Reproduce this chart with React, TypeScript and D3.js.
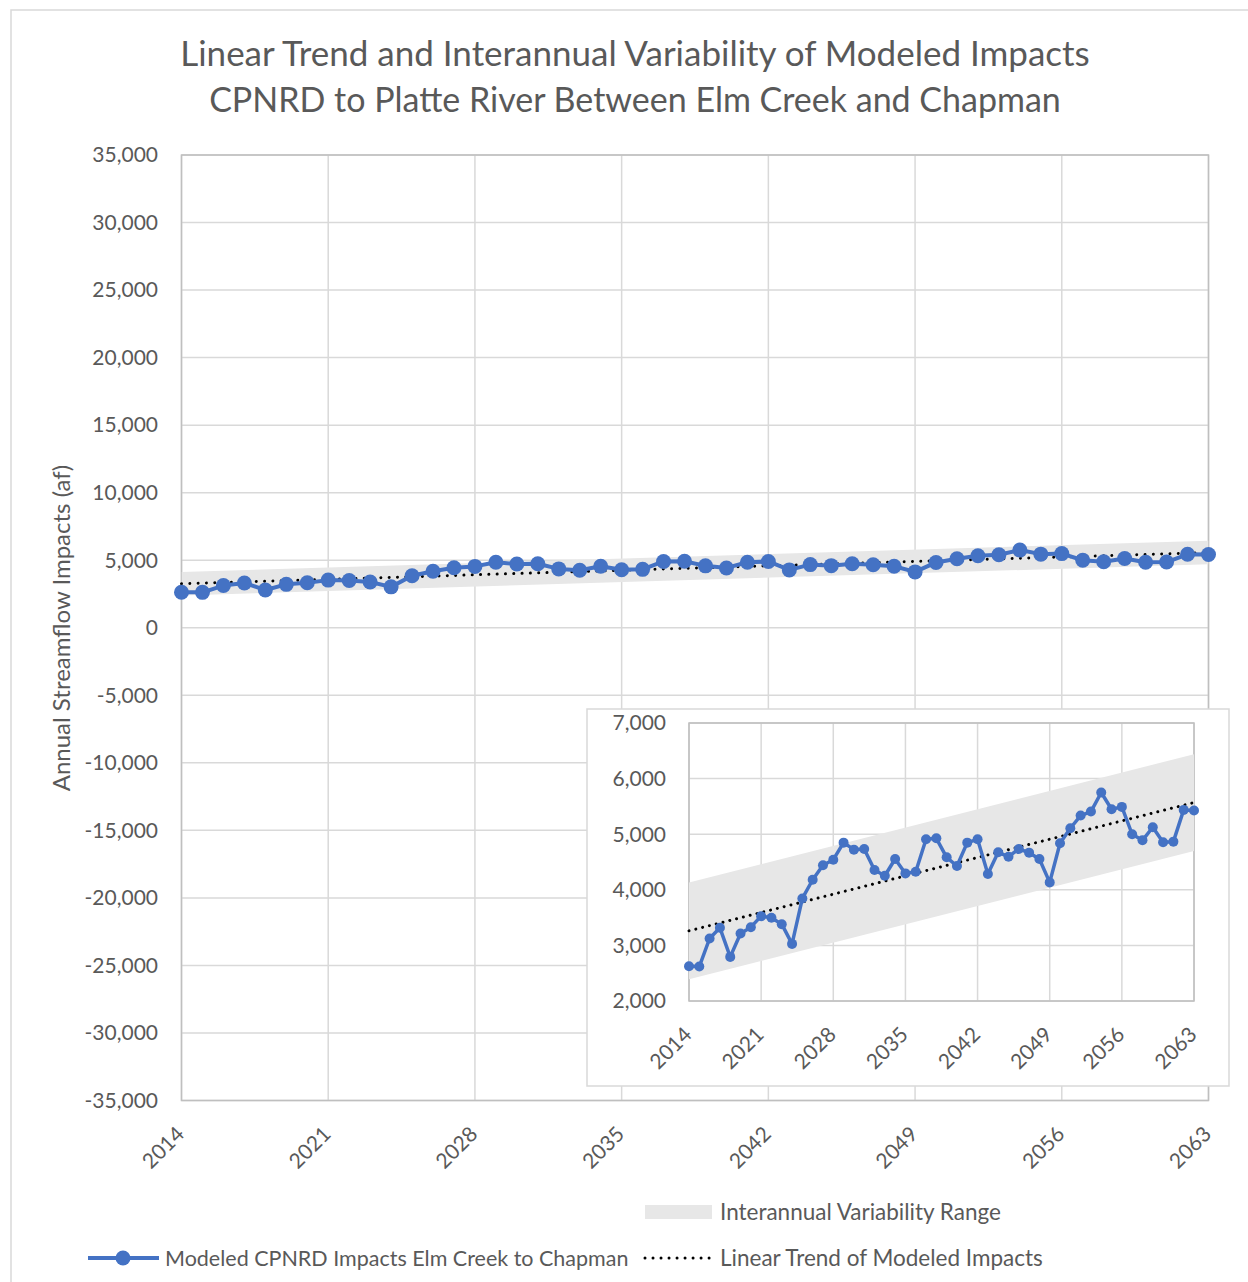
import React from "react";
import * as d3 from "d3";

const years: number[] = d3.range(2014, 2064);
const impacts: number[] = [
  2625, 2620, 3124, 3316, 2793, 3214, 3328, 3526, 3496, 3382,
  3027, 3845, 4181, 4440, 4542, 4848, 4722, 4734, 4356, 4253,
  4554, 4295, 4325, 4908, 4926, 4584, 4428, 4848, 4908, 4283,
  4674, 4596, 4734, 4668, 4554, 4133, 4836, 5107, 5335, 5407,
  5750, 5449, 5491, 4999, 4890, 5125, 4854, 4866, 5437, 5425,
];
const variabilityHalfWidth = 870;
const xTickYears: number[] = [2014, 2021, 2028, 2035, 2042, 2049, 2056, 2063];
const mainYTicks: number[] = d3.range(-35000, 35001, 5000);
const insetYTicks: number[] = [2000, 3000, 4000, 5000, 6000, 7000];

const titleLines = [
  "Linear Trend and Interannual Variability of Modeled Impacts",
  "CPNRD to Platte River Between Elm Creek and Chapman",
];
const titleSizes = [35, 34];
const yAxisTitle = "Annual Streamflow Impacts (af)";
const legendLabels = {
  band: "Interannual Variability Range",
  series: "Modeled CPNRD Impacts Elm Creek to Chapman",
  trend: "Linear Trend of Modeled Impacts",
};

const FONT = "Lato, 'Open Sans', sans-serif";
const TEXT = "#595959";
const GRID = "#d9d9d9";
const AXIS = "#bfbfbf";
const BLUE = "#4472C4";
const BAND = "#e7e7e7";

const fmt = d3.formatLocale({ decimal: ".", thousands: ",", grouping: [3], currency: ["$", ""], minus: "-" }).format(",");

// least-squares linear trend
const xm = d3.mean(years)!;
const ym = d3.mean(impacts)!;
const slope =
  d3.sum(years.map((x, i) => (x - xm) * (impacts[i] - ym))) /
  d3.sum(years.map((x) => (x - xm) * (x - xm)));
const intercept = ym - slope * xm;
const trendAt = (x: number) => intercept + slope * x;

type Pt = { year: number; value: number };
const series: Pt[] = years.map((y, i) => ({ year: y, value: impacts[i] }));

function Panel(props: {
  x0: number; x1: number; yTop: number; yBot: number; domain: [number, number];
  yTicks: number[]; lineW: number; r: number; dotGap: number; labelRight: number;
  clipId: string;
}) {
  const { x0, x1, yTop, yBot, domain, yTicks, lineW, r, dotGap, labelRight, clipId } = props;
  const x = d3.scaleLinear().domain([2014, 2063]).range([x0, x1]);
  const y = d3.scaleLinear().domain(domain).range([yBot, yTop]);
  const area = d3.area<number>().x((d) => x(d)).y0((d) => y(trendAt(d) - variabilityHalfWidth)).y1((d) => y(trendAt(d) + variabilityHalfWidth));
  const line = d3.line<Pt>().x((d) => x(d.year)).y((d) => y(d.value));
  const trend = d3.line<number>().x((d) => x(d)).y((d) => y(trendAt(d)));
  const ends = [2014, 2063];
  return (
    <g>
      <defs>
        <clipPath id={clipId}>
          <rect x={x0} y={yTop} width={x1 - x0} height={yBot - yTop} />
        </clipPath>
      </defs>
      {yTicks.map((t) => (
        <line key={"h" + t} x1={x0} x2={x1} y1={y(t)} y2={y(t)} stroke={GRID} strokeWidth={1.5} />
      ))}
      {xTickYears.map((t) => (
        <line key={"v" + t} x1={x(t)} x2={x(t)} y1={yTop} y2={yBot} stroke={GRID} strokeWidth={1.5} />
      ))}
      <rect x={x0} y={yTop} width={x1 - x0} height={yBot - yTop} fill="none" stroke={AXIS} strokeWidth={1.5} />
      <path d={area(ends)!} fill={BAND} clipPath={`url(#${clipId})`} />
      <path d={trend(ends)!} fill="none" stroke="#000" strokeWidth={3} strokeDasharray={`0.01 ${dotGap}`} strokeLinecap="round" />
      <path d={line(series)!} fill="none" stroke={BLUE} strokeWidth={lineW} strokeLinejoin="round" />
      {series.map((d) => (
        <circle key={d.year} cx={x(d.year)} cy={y(d.value)} r={r} fill={BLUE} />
      ))}
      {yTicks.map((t) => (
        <text key={"yl" + t} x={labelRight} y={y(t)} dy="0.35em" textAnchor="end" fontSize={21} fill={TEXT} fontFamily={FONT}>
          {fmt(t)}
        </text>
      ))}
      {xTickYears.map((t) => (
        <text key={"xl" + t} transform={`translate(${x(t) + 4},${yBot + 35}) rotate(-45)`} textAnchor="end" fontSize={21} fill={TEXT} fontFamily={FONT}>
          {t}
        </text>
      ))}
    </g>
  );
}

export default function App() {
  return (
    <svg width={1248} height={1282} style={{ position: "absolute", left: 0, top: 0, background: "#fff" }} fontFamily={FONT}>
      <rect x={0} y={0} width={1248} height={1282} fill="#fff" />
      <rect x={11} y={10} width={1260} height={1300} fill="#fff" stroke={GRID} strokeWidth={1.5} />
      {titleLines.map((t, i) => (
        <text key={i} x={635} y={66 + i * 46} textAnchor="middle" fontSize={titleSizes[i]} fill={TEXT}>
          {t}
        </text>
      ))}
      <text transform="translate(70,628) rotate(-90)" textAnchor="middle" fontSize={24} fill={TEXT}>
        {yAxisTitle}
      </text>
      <Panel x0={181.5} x1={1208.5} yTop={155} yBot={1100.5} domain={[-35000, 35000]} yTicks={mainYTicks}
        lineW={4} r={7.5} dotGap={8.3} labelRight={158} clipId="clipMain" />
      <rect x={587} y={709} width={642} height={377} fill="#fff" stroke={GRID} strokeWidth={1.5} />
      <Panel x0={689} x1={1194} yTop={723} yBot={1001} domain={[2000, 7000]} yTicks={insetYTicks}
        lineW={3.5} r={5} dotGap={7} labelRight={666} clipId="clipInset" />
      {/* legend */}
      <rect x={645} y={1205} width={67} height={14} fill={BAND} />
      <text x={720} y={1212} dy="0.35em" fontSize={22.5} fill={TEXT}>{legendLabels.band}</text>
      <line x1={88} x2={159} y1={1258} y2={1258} stroke={BLUE} strokeWidth={4} />
      <circle cx={123} cy={1258} r={7.5} fill={BLUE} />
      <text x={165} y={1258} dy="0.35em" fontSize={21.5} fill={TEXT}>{legendLabels.series}</text>
      <line x1={645} x2={712} y1={1258} y2={1258} stroke="#000" strokeWidth={3} strokeDasharray="0.01 8" strokeLinecap="round" />
      <text x={720} y={1258} dy="0.35em" fontSize={22.5} fill={TEXT}>{legendLabels.trend}</text>
    </svg>
  );
}
